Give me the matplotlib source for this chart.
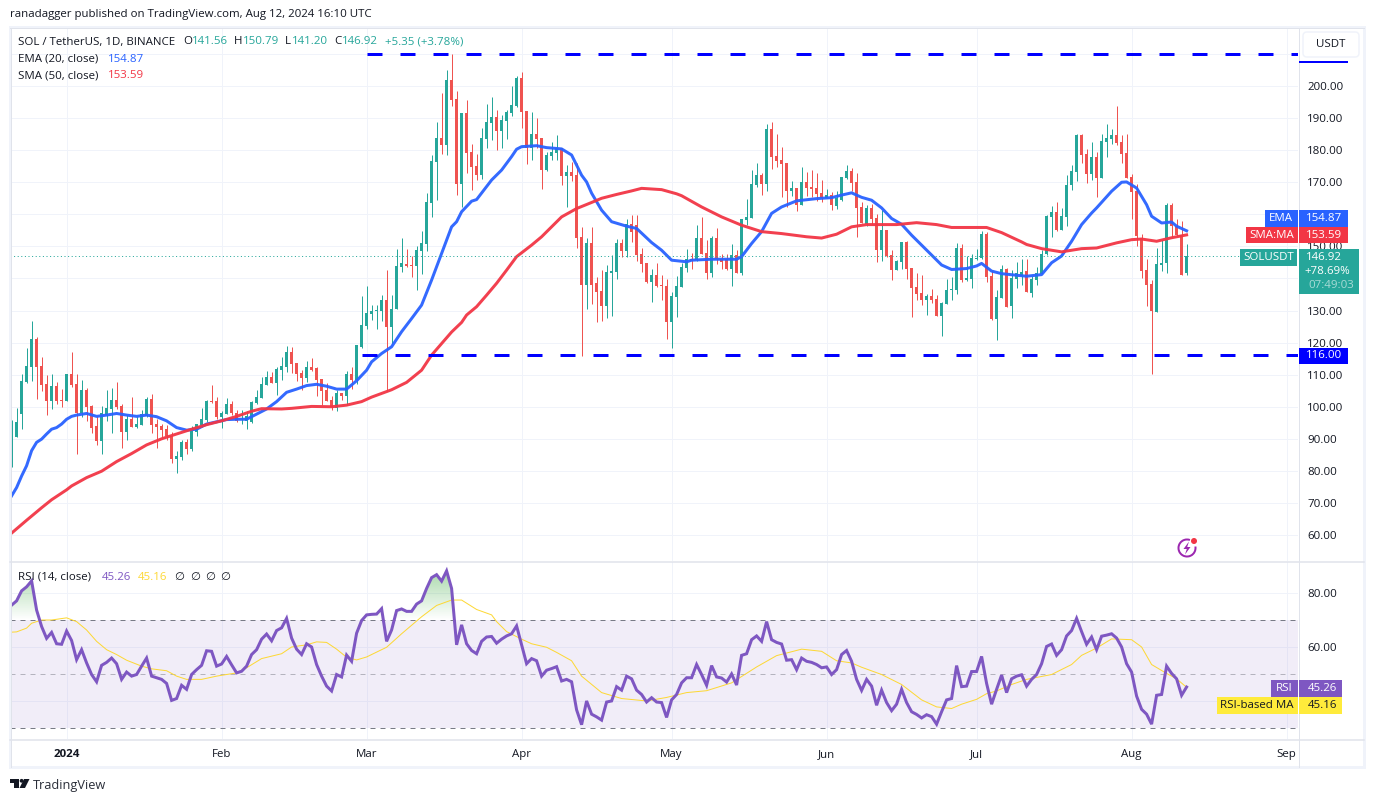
import matplotlib
matplotlib.use("Agg")
import matplotlib.pyplot as plt
import numpy as np
import pandas as pd
from matplotlib.patches import Rectangle, FancyBboxPatch, Polygon, Circle, Arc
from matplotlib.path import Path

plt.rcParams['font.family'] = ['Open Sans', 'DejaVu Sans']

# one candle a day, 2023-12-21 to 2024-08-12
opens = [82.1,90.7,97.8,107.6,112.4,121.1,112.6,107,101.8,106.5,102.1,
    101.8,110.2,107.1,98.2,105.2,100.2,94,89.3,97.4,99.3,102.1,100.2,92.1,96.1,93.6,94.3,97.2,102.4,94.6,94,93,90.9,83.6,84.3,89,86.8,92.1,94.3,95.8,101.8,101.8,
    96.8,97.7,100.8,98,97,95.5,95.1,101.1,102.7,106.8,109.3,107.4,111.5,112.4,117.1,113.6,110.5,109,112.4,112,108.6,105.2,102.1,99.6,104.3,103.3,110.2,108.3,118.7,
    125.3,128.9,129.9,129.9,133.2,124.9,130.6,143.6,144.5,144.2,143.9,148.5,150.7,163.5,176.3,183.8,181.6,201.9,195.9,169.4,191.6,179.4,175,172.2,183.5,188.5,190.3,186,189.1,191.6,193.8,
    202.5,192.2,180.7,185,183.8,173.8,178.2,179.1,180.7,171.9,173.2,172.2,152.9,137.9,151,138.6,136,131.4,141.7,142,151,148.5,157,156.6,147.6,144.8,138.9,141,137.9,137.6,
    126.4,134.2,137.3,143.2,146,145.7,152.6,147.8,141.7,152.6,146,146.2,142.9,147.3,141.7,158.2,158.8,169.1,172.2,169.4,186.6,178.1,176.9,176,167.2,168.2,162.9,170,168.5,168.2,166.6,
    165,166,162.6,164.4,171.3,173.5,170,162.2,156.9,161.9,158.8,148.8,155.1,147.3,142.6,145.1,151.3,143.2,137.3,135.4,133.2,134.5,133.6,128.3,132,136.4,136.4,149.5,139.5,139.8,
    146,146.3,153.8,140.7,127.3,133.9,142.9,131.4,139.7,140.7,142.3,135.5,139.4,141.5,147.5,159.1,160.7,155.2,159.1,169,173.2,184.6,178.8,172.6,177.9,171.3,182.5,183.5,184.7,182.5,179,
    171.5,167.2,152.7,142.5,138.3,129.6,144.1,144.7,163,156.5,153.7,141.56]
highs = [95.8,99.5,110.2,118.3,126.8,121.8,115.5,109.9,110.2,107.7,105.5,
    110.2,117,110.2,108.3,105.8,100.5,97,100.2,105.2,105.8,107.7,100.8,97.4,103,97.1,99,103,104,96.1,94.6,94.3,92,86.1,89.6,89.9,94,94.6,99.6,102.1,106.8,103,
    98.6,102.7,101.8,99,99,98.6,101.8,105.2,109.3,111.1,110.8,112.4,115.5,119,118.6,113.6,111.5,114.3,115.2,112.4,108.6,107.4,103.3,105.1,104.3,111.1,112.4,119.3,134.5,
    137.6,131.7,131.7,134.8,142.6,134.8,149.2,152.6,149.2,147,150.1,154.8,166.6,178.5,188.8,197.8,205,210,198.4,191.6,195.6,181.9,178.8,186.9,194.4,196.6,192.5,190.9,192.5,200,203.1,
    204.4,192.2,191.9,190,183.8,179.4,182.5,184.7,180.7,175.3,176.3,176,156,152.6,156,140.4,142.6,144.2,147.3,152.3,152.3,158.5,159.8,159.8,149.5,144.8,142.9,144.8,141,139.8,
    135.7,140.7,144.8,149.2,147.8,156.6,159.1,152,153.2,155.7,147.6,147.6,150.7,148.8,158.5,164.7,173.8,176,172.9,188.1,188.8,185,181,176,170.4,168.2,174.7,173.2,173.8,172.8,170.7,
    167.9,166.9,167.2,171.6,175.3,174.4,172.8,163.8,162.9,163.2,160.1,161.3,155.1,148.8,145.7,151.3,151.6,143.2,141.7,141,135.1,136.7,134.8,132.6,139.8,140.4,151,150.7,147,147.6,
    149.1,154.8,154.4,142.6,136.4,144.2,143.2,142.6,145.1,146.2,146.2,140.7,143.6,149,159.7,162.5,163.9,162,172.4,175.3,185.1,185.1,180.4,182.5,179.5,185.2,188.1,186.6,193.7,184.7,185,
    172.7,169.5,153.9,146.2,139.4,149.5,152.1,163.5,163.5,158.4,158,150.79]
lows = [81.3,90.5,93,107.4,108,102.4,104.9,97.4,99.3,100.8,99.9,
    101.8,106.1,85.2,96.7,95.5,91.8,88,85.2,95.5,91.8,99.3,87.1,89.6,93.6,93.3,94.3,96.8,91.8,87.1,90.5,89.6,82.4,79.3,83.3,85.2,86.1,90.8,93.6,95.2,101.1,96.1,
    93.5,97.7,97.4,95.2,94.6,93,94.9,100.8,102.7,106.8,107.4,103.6,108.3,110.8,110.5,108,105.2,107.7,111.1,103.3,100.5,101.8,99,98.6,102.1,100.5,105.5,107,118.2,
    124.3,127.2,124.3,126.7,105,119.7,130.6,142.1,143.5,140.4,136.4,141.4,148.5,159.1,164.4,178.8,178.5,193.8,166,162.4,172.9,167.6,170.7,171,180.7,183.2,180,180.7,183.5,190.6,193.4,
    186.9,175.7,176.9,180.7,167.9,173.5,176.9,176.9,169.1,162.3,170.4,149.5,115.8,130.5,132,126.4,126.7,127.6,128.3,139.8,146.7,146.7,151.3,145.4,142,138.6,132.6,137.3,133.3,121.1,
    118.3,128,137.3,142,142.9,145.4,147.6,139.8,140.4,144.5,142.9,142.6,137.6,141.7,141,156.6,158.8,168.5,166,167.2,174.1,174.7,165.4,162.2,165.7,161,162.9,165.7,165.4,164.1,163.8,
    165,161.3,161.6,164.1,171,167.2,152.9,157.3,156.3,156.9,145.1,145.4,146.7,139.5,142.6,142.9,139.8,127.9,133.2,131.7,128.6,132.3,128.3,122,132,133.2,135.1,138.9,139.2,137,
    145.7,146,138.9,127,120.8,133.9,131.1,127.6,137,138.1,135.7,134.2,138.1,141.5,147.3,152.9,154.7,155.2,156.3,167.7,170.3,176,169.9,170.7,165.5,171.3,177.9,181.9,181.6,175.9,171.4,
    158.4,150.1,140.2,131.4,110.1,129.6,142.3,141.8,152.9,153.2,141.2,141.2]
closes = [94.1,95.1,108,112.6,121.1,112.4,106.8,101.8,106.5,101.8,101.8,
    110.2,106.8,98.2,105.2,99.9,93.5,89.3,97.9,99.6,102.1,99.9,92.1,96.1,93.6,94.6,97.7,102.4,94.3,93.6,92.7,90.8,83.6,84.6,89,86.8,93,94.6,96.1,101.8,101.5,96.7,
    98,100.8,98,95.5,97.5,97.1,101.5,103,107.1,109.3,107.4,111.8,112.7,117.1,113.3,110.2,109,112.4,111.5,108.3,104.9,101.8,99.9,104.3,103.3,110.2,108.3,119.3,125.5,
    129.1,129.9,130.1,133.2,124.9,130.6,143.9,144.7,143.9,143.9,148.8,151,163.8,176.6,183.8,181.6,201.9,195.6,169.4,191.6,179.1,174.7,172.2,183.8,188.8,190.3,186,189.4,191.9,194,202.5,
    191.9,180.7,185,183.5,173.8,178.5,179.4,180.6,171.9,173.2,171.9,152.6,137.9,151,137.9,135.8,131.4,142,142.3,151,148.5,157,154.5,147.3,144.5,138.9,141,137.6,137.6,126.4,
    134.5,137.6,143.5,146,145.4,152.6,147.6,141.7,152.6,146,145.1,142.9,147.3,141.7,158.5,159.1,169.4,172.2,169.4,186.6,177.8,176.6,175.7,167.2,168.2,162.9,170,168.2,167.9,166.3,165,
    166,162.9,165,171.6,173.5,169.7,161.9,157.3,161.9,158.5,148.8,155.1,147,142.6,145.4,151.3,142.9,137,135.1,133.2,134.5,133.2,128.3,132.3,136.4,136.7,149.5,139.5,140.1,146.3,
    146.3,153.8,140.4,127.3,134.2,142.9,131.1,140,141.8,142.1,135.7,139.7,141.8,147.7,159.4,160.7,155.2,159.4,169.3,173.6,184.6,178.6,172.6,177.9,171.3,182.8,183.8,184.7,182.3,178.8,171.4,
    167,153.2,142.3,138.1,129.8,144.4,144.9,163,156.3,153.5,141.2,146.92]

# moving averages, day number and value
ema_days = [0,1,2,3,4,5,6,7,8,9,10,11,12,13,15,17,19,21,23,25,27,29,31,33,35,37,39,41,43,45,47,49,51,53,55,57,59,61,63,65,67,69,71,72,74,76,78,80,82,84,86,88,89,90,92,93,96,98,100,101,102,105,107,110,112,114,115,116,118,120,123,125,128,130,132,135,136,140,142,145,146,148,150,152,154,157,161,164,166,168,170,172,174,176,178,180,184,186,188,191,193,194,196,198,201,203,206,208,210,212,214,216,217,220,222,223,225,227,228,230,232,233,235]
ema_vals = [72.2,74.8,78.4,81.6,86.3,88.9,89.9,91.5,93,93.5,94.6,96.1,97,97.4,97.9,97,97.4,97.9,97.4,97,97.4,96.9,95.6,93.5,92.7,93,94.6,95.3,96,96.1,96.1,97.7,99.3,101.6,104.5,105.5,106.6,107,106.4,105.5,105.5,108.1,111.4,114,116.6,118.7,123.4,127.5,131.7,139.5,147.8,156.1,157.7,160.8,164.1,164.6,170.7,173.8,178,180.3,181.1,181.4,180.8,180.4,178.5,172.2,170.1,166.6,161.3,157.7,156.3,155.6,151.2,148.8,145.7,145.2,145.7,146,146,146,146.8,150.9,154.6,160.3,162.3,164.2,164.9,165.2,166,166.7,165.3,164.4,162,158.7,156.9,153.5,147.3,144.2,142.8,143.1,143.9,144.7,142.3,141.5,141,140.7,141.2,144.9,147,151.6,156.8,160.4,162,167.2,170,170.1,168.2,163,159.4,157.3,157.6,156.3,154.87]
sma_days = [0,3,6,8,11,12,15,18,21,24,27,30,33,36,39,42,45,48,50,54,56,60,64,67,70,72,76,79,82,84,86,88,90,91,93,95,97,99,101,104,106,108,110,113,116,118,121,124,126,130,133,134,138,142,146,150,154,159,162,165,168,171,177,181,185,188,191,195,198,202,203,206,210,214,217,221,224,226,229,232,235]
sma_vals = [60.6,64.6,68.5,71,74.1,75.3,77.9,79.9,82.9,85.4,88.1,90,91.5,93,94.4,95.6,97,98.6,99.4,99.3,99.5,100.1,100,100.5,101.6,103,105.3,107.6,111.4,116.1,119.7,123.3,126.3,128.6,131.2,134.8,138.5,142.6,146.8,150.4,153,156.1,159.2,161.8,163.7,165,166.2,167.3,168.1,167.7,166.4,165.8,162.3,159.2,156.6,154.6,154,153,152.6,153.8,156.1,156.8,156.8,157.4,156.8,155.9,155.9,155.9,154.3,151.4,150.6,149.3,148.3,149.3,149.5,151.1,152.1,152.3,151.6,152.7,153.59]

rsi_vals = [75.6,77.2,80.9,82.4,84.6,73.8,67.7,63.3,65.5,61.3,61.1,66,62.5,55.4,59.1,54.2,49.9,47.2,53.3,54.4,56,53.9,48.1,50.8,49.3,49.9,53,56,49.3,48.7,48.1,46.6,40.3,41,45.9,44.4,49.9,51.7,53.3,58.7,58.5,53,53.8,56.6,53.5,50.5,51.1,53,57.3,59.1,63,64.9,62.4,66.2,67.2,70.7,63.4,59.3,57.3,61.3,60.1,53.6,49.3,45.6,43.8,49.9,49,57.1,54.8,65.2,69.9,72,72.2,72.3,74.3,62.2,66.4,73.6,74.2,73.3,73.3,76,77.2,81.8,85.8,86.9,84.5,88.3,81.8,60.9,68.3,61.3,58.8,57.6,62.2,63.8,
    64,61.5,63,64.2,65,67.9,60.9,53.9,55.8,55,49.3,51.5,52.1,52.8,47.5,48.1,47.2,36.8,31.3,40.1,35.2,34.2,33,39.7,40.1,45.4,44.1,49.3,48.3,44.1,42.5,39.7,41.3,39.7,39.5,34,40.5,42.5,46.8,48.7,48.7,53.6,49.9,45.9,53.2,49,48.6,47.1,50.1,46,57,57.6,62.8,64.2,62.2,69.5,62.8,61.8,61.2,55.2,55.4,51.7,56,54.8,54.4,53.6,52.4,52.7,49.9,51.7,57.3,58.8,54.8,48.1,44,48.1,45.6,38.5,44.1,39.5,36.5,38.9,44.4,39.5,36.1,35.1,33.8,35,34.3,31.5,36.1,40.5,
    41,53.2,45.4,45.6,51,51,56.6,46.6,38.9,44.4,49.7,43.2,48.3,49.3,49.8,45.6,48.1,49.9,53.9,60.3,61.2,57,59.1,64.2,66.2,70.7,65.8,61.1,63.8,59.1,64.1,64.5,65,63.4,60.1,53.9,50.8,41.9,37,35.2,31.5,42.2,42.5,53,50.3,48.3,42.2,45.26]
rsi_ma_days = [0,1,3,4,6,8,11,13,15,17,19,21,23,26,28,31,33,35,38,41,45,47,50,54,56,59,61,63,65,67,69,71,75,78,82,85,88,90,93,96,97,99,102,104,107,109,112,114,118,122,127,131,135,139,144,149,153,158,162,165,168,170,174,178,182,185,188,190,193,195,197,200,203,208,212,214,217,220,224,226,228,231,233,235]
rsi_ma_vals = [65.6,65.7,67.1,68.9,70.1,70.1,70.9,69.5,66.4,62.2,59.1,57.3,55.2,53,52,51.3,49.3,48.1,48.1,49.3,50.5,52.4,55.8,57.6,60.1,60.9,62,61.8,59.3,56.3,55.3,56.4,60,65,71.3,75.5,77.5,77.5,74,72,69.5,65.8,63,61.3,60,58.1,55,49.3,43.2,41,40.1,41.4,43.2,43.9,46.8,52.7,56.9,59.3,58.5,55,54.2,52.6,49.9,46.2,40.5,37.9,37.3,38.9,40.7,42.8,43.8,46.2,48.1,49.9,53.6,57,59.7,63.1,62.8,60.1,53.6,50.3,48.3,45.16]

res_high = 210
res_low = 116
last_close = 146.92
price_ticks = list(range(60, 220, 10))
month_names = ['2024', 'Feb', 'Mar', 'Apr', 'May', 'Jun', 'Jul', 'Aug', 'Sep']
month_starts = ['2024-01-01', '2024-02-01', '2024-03-01', '2024-04-01', '2024-05-01', '2024-06-01', '2024-07-01', '2024-08-01', '2024-09-01']

assert len(opens) == len(highs) == len(lows) == len(closes) == len(rsi_vals) == 236
assert len(ema_days) == len(ema_vals) and len(sma_days) == len(sma_vals) and len(rsi_ma_days) == len(rsi_ma_vals)

GREEN = '#26a69a'
RED = '#ef5350'
BLUE = '#2962ff'
MA_RED = '#f23645'
PURPLE = '#7e57c2'
YELLOW = '#fdd835'
TXT = '#131722'
GRID = '#f0f3fa'
LINE = '#e0e3eb'
FS = 8.25

W, H = 1374, 802
PX = 0.72  # one pixel in points at dpi 100

fig = plt.figure(figsize=(W / 100, H / 100), dpi=100, facecolor='white')

def pane(x0, y0, x1, y1):
    return fig.add_axes([x0 / W, 1 - y1 / H, (x1 - x0) / W, (y1 - y0) / H])

ax = pane(10, 28, 1298, 561)
ax2 = pane(10, 562, 1298, 739)

n = len(closes)
x = np.arange(n)
o, hi, lo, c = map(np.array, (opens, highs, lows, closes))
up = c >= o
colors = np.where(up, GREEN, RED)
xlim = (-0.32, 257.28)
start = pd.Timestamp('2023-12-21')
month_x = [(pd.Timestamp(d) - start).days for d in month_starts]

for a in (ax, ax2):
    a.set_xlim(*xlim)
    for s in a.spines.values():
        s.set_visible(False)
    a.set_axisbelow(True)
    a.grid(True, color=GRID, lw=1 * PX)
    a.set_xticks(month_x)
    a.yaxis.tick_right()
    a.tick_params(length=0, labelsize=FS, labelcolor=TXT, pad=6.5)

# price pane
ax.set_ylim(51.9, 218.1)
ax.set_yticks(price_ticks)
ax.set_yticklabels(['%.2f' % v for v in price_ticks])
ax.set_xticklabels([])
ax.vlines(x, lo, hi, colors=colors, lw=1 * PX, zorder=2)
ax.bar(x, np.maximum(np.abs(c - o), 0.3), bottom=np.minimum(o, c), width=0.72, color=colors, lw=0, zorder=3)
ax.plot(ema_days, ema_vals, color=BLUE, lw=3 * PX, solid_joinstyle='round', alpha=0.95, zorder=4)
ax.plot(sma_days, sma_vals, color=MA_RED, lw=3 * PX, solid_joinstyle='round', alpha=0.95, zorder=4)
ax.axhline(last_close, color=GREEN, lw=1 * PX, ls=(0, (1, 2.6)), zorder=4)
ax.plot([71, xlim[1]], [res_high, res_high], color='#0000ff', lw=3 * PX, ls=(0, (5, 6)), dash_capstyle='butt', zorder=5)
ax.plot([70, xlim[1]], [res_low, res_low], color='#0000ff', lw=3 * PX, ls=(0, (5, 6)), dash_capstyle='butt', zorder=5)

# rsi pane
rsi = np.array(rsi_vals)
ax2.set_ylim(26, 91.6)
ax2.set_yticks([80, 60, 40])
ax2.set_yticklabels(['80.00', '60.00', ''])
ax2.set_xticklabels(month_names)
ax2.get_xticklabels()[0].set_fontweight('bold')
ax2.tick_params(axis='x', pad=7.4)
ax2.axhspan(30, 70, color=PURPLE, alpha=0.1, lw=0, zorder=1)
ax2.axhline(70, color='#787b86', lw=1 * PX, ls=(0, (5, 5)), zorder=2)
ax2.axhline(50, color='#787b86', lw=1 * PX, ls=(0, (5, 5)), alpha=0.5, zorder=2)
ax2.axhline(30, color='#787b86', lw=1 * PX, ls=(0, (5, 5)), zorder=2)

grad = np.zeros((64, 2, 4))
grad[..., 0], grad[..., 1], grad[..., 2] = 76 / 255, 175 / 255, 80 / 255
grad[..., 3] = np.linspace(0.5, 0, 64)[:, None]
im = ax2.imshow(grad, extent=(xlim[0], xlim[1], 70, 89), origin='upper', aspect='auto', zorder=2)
over = ax2.fill_between(x, 70, rsi, where=rsi > 70, interpolate=True, facecolor='none', lw=0)
im.set_clip_path(Path.make_compound_path(*over.get_paths()), transform=ax2.transData)
ax2.set_xlim(*xlim)
ax2.set_ylim(26, 91.6)
ax2.plot(rsi_ma_days, rsi_ma_vals, color=YELLOW, lw=1 * PX, zorder=3)
ax2.plot(x, rsi, color=PURPLE, lw=3 * PX, solid_joinstyle='miter', zorder=4)

# page furniture, drawn in pixels on top of the panes
top = fig.add_axes([0, 0, 1, 1], zorder=10)
top.set_xlim(0, W)
top.set_ylim(H, 0)
top.axis('off')
top.patch.set_alpha(0)

def box(x0, y0, x1, y1, col, z=3):
    top.add_patch(Rectangle((x0, y0), x1 - x0, y1 - y0, facecolor=col, edgecolor='none', zorder=z))

def txt(x0, y0, s, col=TXT, size=FS, ha='left', **kw):
    top.text(x0, y0, s, color=col, fontsize=size, ha=ha, va='center', zorder=6, **kw)

# frame
top.add_patch(Rectangle((10, 27), 1354, 740, fill=False, edgecolor=GRID, lw=3 * PX, zorder=1))
top.plot([10, 1364], [27.5, 27.5], color=LINE, lw=1 * PX, zorder=1)
top.plot([10, 1364], [561.5, 561.5], color=LINE, lw=1.5 * PX, zorder=1)
top.plot([10, 1364], [739.5, 739.5], color=LINE, lw=1.5 * PX, zorder=1)
top.plot([1298.5, 1298.5], [28, 767], color=LINE, lw=1 * PX, zorder=1)
top.plot([10.5, 10.5], [28, 767], color=LINE, lw=1 * PX, zorder=1)

txt(10, 15, 'ranadagger published on TradingView.com, Aug 12, 2024 16:10 UTC')

# legend
txt(18, 42, 'SOL / TetherUS, 1D, BINANCE')
for lx, lab, vx, val in [(183, 'O', 192, '141.56'), (234, 'H', 243, '150.79'), (285, 'L', 292, '141.20'), (334, 'C', 342, '146.92')]:
    txt(lx, 42, lab)
    txt(vx, 42, val, GREEN)
txt(385, 42, '+5.35 (+3.78%)', GREEN)
txt(18, 59, 'EMA (20, close)')
txt(108, 59, '154.87', BLUE)
txt(18, 75.5, 'SMA (50, close)')
txt(108, 75.5, '153.59', MA_RED)
txt(18, 577, 'RSI (14, close)')
txt(102, 577, '45.26', PURPLE)
txt(138, 577, '45.16', YELLOW)
for sx in (179, 195, 210, 225):
    txt(sx, 577, '∅', ha='center')

# price scale button
box(1298.5, 61, 1348, 63, '#0000ff')
box(1299.5, 29, 1362, 60, 'white', 4)
top.add_patch(FancyBboxPatch((1303, 32), 56, 25, boxstyle='round,pad=0,rounding_size=4', facecolor='white', edgecolor=GRID, lw=1.5 * PX, zorder=5))
txt(1331, 44.5, 'USDT', ha='center')

# price labels
box(1265, 210, 1297.5, 227, BLUE)
box(1298.5, 210, 1348, 227, BLUE)
txt(1281, 218.5, 'EMA', 'white', ha='center')
txt(1342, 218.5, '154.87', 'white', ha='right')
box(1246, 227, 1297.5, 243, MA_RED)
box(1298.5, 227, 1348, 243, MA_RED)
txt(1272, 235, 'SMA:MA', 'white', ha='center')
txt(1342, 235, '153.59', 'white', ha='right')
box(1240, 249, 1297, 266, GREEN)
box(1298.5, 249, 1359, 294, GREEN)
txt(1268.5, 257.5, 'SOLUSDT', 'white', ha='center')
txt(1342, 257.5, '146.92', 'white', ha='right')
txt(1350, 271.5, '+78.69%', 'white', ha='right')
txt(1354, 285.5, '07:49:03', '#a8dbd6', ha='right')
box(1298.5, 348, 1348, 364, '#0000ff')
txt(1342, 356, '116.00', 'white', ha='right')
box(1271, 680, 1297.5, 697, PURPLE)
box(1298.5, 680, 1342, 697, PURPLE)
txt(1284, 688.5, 'RSI', 'white', ha='center')
txt(1337, 688.5, '45.26', 'white', ha='right')
box(1217, 697, 1297.5, 714, '#ffeb3b')
box(1298.5, 697, 1342, 714, '#ffeb3b')
txt(1257, 705.5, 'RSI-based MA', TXT, ha='center')
txt(1337, 705.5, '45.16', TXT, ha='right')

# flash icon
top.add_patch(Arc((1187, 548), 17, 17, theta1=-10, theta2=290, edgecolor='#9c27b0', lw=2 * PX, zorder=6))
top.add_patch(Polygon([(1189, 541.5), (1183.5, 549), (1186.8, 549), (1185, 554.5), (1190.5, 547), (1187.2, 547)], facecolor='#9c27b0', edgecolor='none', zorder=6))
top.add_patch(Circle((1194, 541), 3, facecolor=MA_RED, edgecolor='none', zorder=7))

# logo
top.add_patch(Polygon([(10, 779), (19, 779), (19, 788), (14, 788), (14, 782.5), (10, 782.5)], facecolor=TXT, edgecolor='none', zorder=6))
top.add_patch(Circle((21.6, 780.8), 1.9, facecolor=TXT, edgecolor='none', zorder=6))
top.add_patch(Polygon([(24, 779), (29.5, 779), (25, 788), (19.5, 788)], facecolor=TXT, edgecolor='none', zorder=6))
txt(33, 785, 'TradingView', '#2a2e39', size=9.2)

fig.savefig('out.png', dpi=100, facecolor='white')
